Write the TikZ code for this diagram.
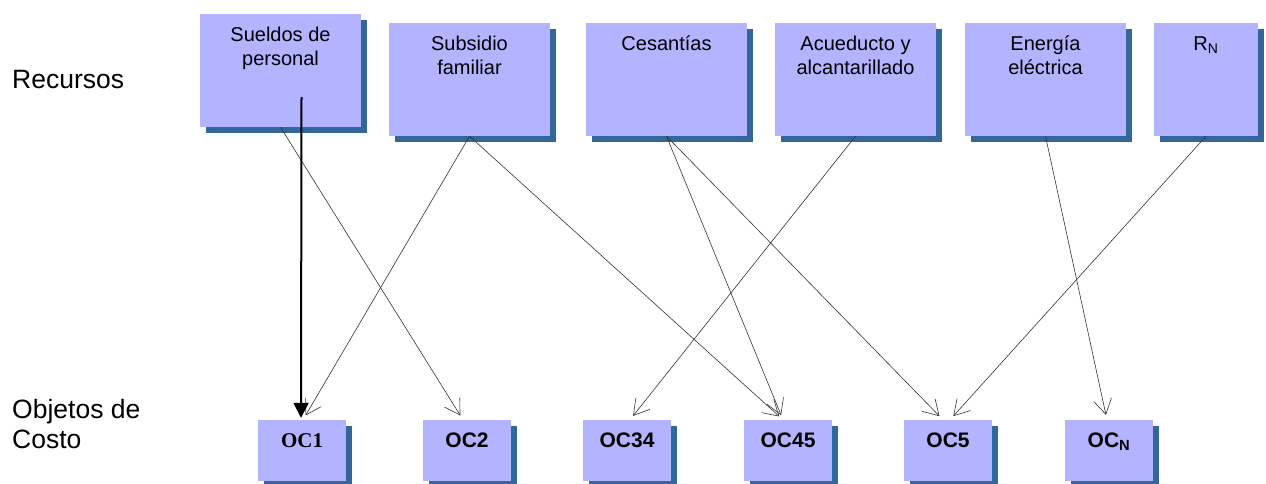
\documentclass[tikz,border=0pt]{standalone}
\usepackage{fontspec}
\setmainfont{Liberation Sans}
\newfontfamily\ocserif{Liberation Serif}
\usetikzlibrary{shadows, arrows.meta}
\definecolor{boxfill}{RGB}{179,179,255}
\definecolor{boxshadow}{RGB}{51,102,153}
\begin{document}
\begin{tikzpicture}[x=1pt, y=-1pt,
  box/.style={rectangle, fill=boxfill, inner sep=0pt, drop shadow={fill=boxshadow, opacity=1, shadow xshift=5.5pt, shadow yshift=-5.5pt}},
  recurso/.style={box, minimum width=161pt, minimum height=113pt},
  objeto/.style={box, minimum width=88pt, minimum height=61pt},
  rtext/.style={anchor=base, align=center, font=\fontsize{20}{24}\selectfont},
  otext/.style={anchor=base, font=\fontsize{21}{25}\selectfont\bfseries},
  lado/.style={anchor=base west, align=left, inner sep=0pt, font=\fontsize{26.5}{30}\selectfont},
  flecha/.style={-{Straight Barb[length=15pt, width=18pt]}, line width=0.6pt, draw=black!80, shorten >=5pt}]
\useasboundingbox (0,0) rectangle (1266,483);
\node (L1)[lado] at (12,88) {Recursos};
\node (L2)[lado] at (12,448) {Objetos de\\Costo};
\node (R1)[recurso] at (280.5,70.5) {};
\node (R2)[recurso] at (469.5,79.5) {};
\node (R3)[recurso] at (666.5,79.5) {};
\node (R4)[recurso] at (855.5,79.5) {};
\node (R5)[recurso] at (1045.5,79.5) {};
\node (R6)[recurso, minimum width=104pt] at (1206,79.5) {};
\node (T1)[rtext] at ([yshift=-51.7pt]R1.north) {Sueldos de\\personal};
\node (T2)[rtext] at ([yshift=-51.7pt]R2.north) {Subsidio\\familiar};
\node (T3)[rtext] at ([yshift=-27.7pt]R3.north) {Cesantías};
\node (T4)[rtext] at ([yshift=-51.7pt]R4.north) {Acueducto y\\alcantarillado};
\node (T5)[rtext] at ([yshift=-51.7pt]R5.north) {Energía\\eléctrica};
\node (T6)[rtext] at ([yshift=-27.7pt]R6.north) {R\textsubscript{N}};
\node (O1)[objeto] at (302,450.5) {};
\node (O2)[objeto] at (467,450.5) {};
\node (O3)[objeto] at (627,450.5) {};
\node (O4)[objeto] at (788,450.5) {};
\node (O5)[objeto] at (948,450.5) {};
\node (O6)[objeto] at (1109,450.5) {};
\node (N1)[otext] at ([yshift=-28pt]O1.north) {\ocserif OC1};
\node (N2)[otext] at ([yshift=-28pt]O2.north) {OC2};
\node (N3)[otext] at ([yshift=-28pt]O3.north) {OC34};
\node (N4)[otext] at ([yshift=-28pt]O4.north) {OC45};
\node (N5)[otext] at ([yshift=-28pt]O5.north) {OC5};
\node (N6)[otext] at ([yshift=-28pt]O6.north) {OC\textsubscript{N}};
\draw[flecha] (R1.south) -- ([xshift=-4pt]O2.north);
\draw[flecha] (R2.south) -- ([xshift=1pt]O1.north);
\draw[flecha] (R2.south) -- ([xshift=-5pt]O4.north);
\draw[flecha] (R3.south) -- ([xshift=-5pt]O4.north);
\draw[flecha] (R3.south) -- ([xshift=-5pt]O5.north);
\draw[flecha] (R4.south) -- ([xshift=3pt]O3.north);
\draw[flecha] (R5.south) -- ([xshift=-2pt]O6.north);
\draw[flecha] (R6.south) -- ([xshift=2pt]O5.north);
\draw[line width=2pt, -{Triangle[length=15pt, width=15pt]}, shorten >=2pt] ([xshift=21pt, yshift=30pt]R1.south) -- ([xshift=-1pt]O1.north);
\end{tikzpicture}
\end{document}
